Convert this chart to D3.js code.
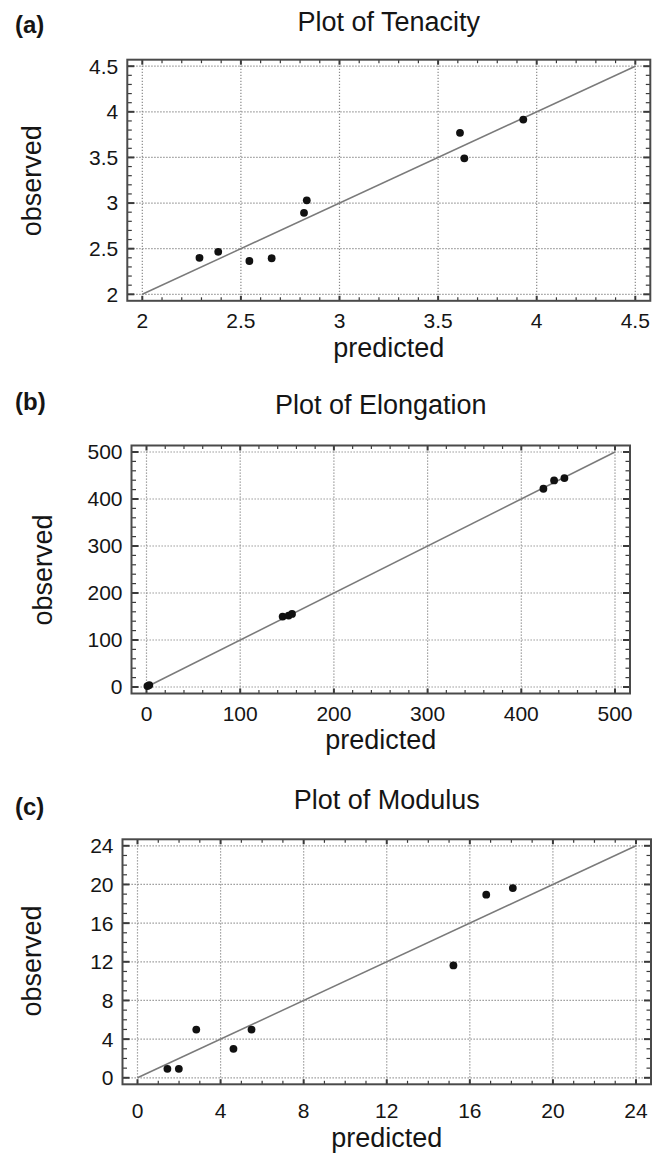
<!DOCTYPE html>
<html><head><meta charset="utf-8">
<script src="https://cdn.jsdelivr.net/npm/d3@7"></script>
<style>
body{margin:0;background:#fff}
svg{display:block}
text{font-family:"Liberation Sans",Arial,Helvetica,sans-serif;fill:#151515}
</style>
</head><body>
<svg id="chart" width="659" height="1155"></svg>
<script>
// ---- data ----
const tenacityPredicted = [2.29, 2.385, 2.543, 2.656, 2.82, 2.834, 3.611, 3.633, 3.932];
const tenacityObserved  = [2.40, 2.465, 2.365, 2.395, 2.893, 3.03, 3.77, 3.49, 3.915];
const tenacityTicks = [2, 2.5, 3, 3.5, 4, 4.5];

const elongationPredicted = [1, 3, 145.3, 151.7, 155.3, 423.6, 435, 446];
const elongationObserved  = [2, 4, 149.8, 151.9, 155.5, 421.8, 439.5, 444.6];
const elongationTicks = [0, 100, 200, 300, 400, 500];

const modulusPredicted = [1.44, 1.99, 2.83, 4.62, 5.49, 15.21, 16.79, 18.07];
const modulusObserved  = [0.93, 0.93, 4.99, 3.0, 4.99, 11.63, 18.94, 19.63];
const modulusTicks = [0, 4, 8, 12, 16, 20, 24];

const panelLetters = ["(a)", "(b)", "(c)"];
const panelTitles = ["Plot of Tenacity", "Plot of Elongation", "Plot of Modulus"];
const xAxisTitle = "predicted";
const yAxisTitle = "observed";

// ---- layout ----
const panels = [
  {pred: tenacityPredicted, obs: tenacityObserved, ticks: tenacityTicks, minor: 0.1,
   frame: {l:127.3, r:650.3, t:59.7, b:300.8}, letterY: 33, titleY: 31, xLabY: 327.5, xTitleY: 357, yTitleX: 41, yTitleY: 180.7},
  {pred: elongationPredicted, obs: elongationObserved, ticks: elongationTicks, minor: 20,
   frame: {l:131.5, r:630, t:445.5, b:693.5}, letterY: 410, titleY: 414, xLabY: 720.5, xTitleY: 749, yTitleX: 52, yTitleY: 570},
  {pred: modulusPredicted, obs: modulusObserved, ticks: modulusTicks, minor: 1,
   frame: {l:122.5, r:651, t:839.3, b:1084.3}, letterY: 815, titleY: 809, xLabY: 1117.5, xTitleY: 1146.5, yTitleX: 41, yTitleY: 961}
];

const svg = d3.select("#chart");

panels.forEach((p, i) => {
  const f = p.frame;
  const padX = 15, padY = 6.5;
  const dom = d3.extent(p.ticks);
  const x = d3.scaleLinear().domain(dom).range([f.l + padX, f.r - padX]);
  const y = d3.scaleLinear().domain(dom).range([f.b - padY, f.t + padY]);
  const g = svg.append("g");

  // grid
  g.selectAll(".vg").data(p.ticks).join("line")
    .attr("x1", d => x(d)).attr("x2", d => x(d)).attr("y1", f.t).attr("y2", f.b)
    .attr("stroke", "#8a8a8a").attr("stroke-width", 1.2).attr("stroke-dasharray", "1.3,1.7");
  g.selectAll(".hg").data(p.ticks).join("line")
    .attr("y1", d => y(d)).attr("y2", d => y(d)).attr("x1", f.l).attr("x2", f.r)
    .attr("stroke", "#8a8a8a").attr("stroke-width", 1.2).attr("stroke-dasharray", "1.3,1.7");

  // minor/major ticks (inward)
  const eps = p.minor / 1000;
  const all = d3.range(dom[0], dom[1] + eps, p.minor);
  const isMajor = v => p.ticks.some(t => Math.abs(t - v) < eps * 10);
  const tk = g.append("g").attr("stroke", "#3a3a3a");
  all.forEach(v => {
    const maj = isMajor(v);
    const lv = maj ? 7 : 4.5, lh = maj ? 5 : 3.5;
    const sw = maj ? 2 : 1.2;
    tk.append("line").attr("x1", f.l).attr("x2", f.l + lv).attr("y1", y(v)).attr("y2", y(v)).attr("stroke-width", sw);
    tk.append("line").attr("x1", f.r).attr("x2", f.r - lv).attr("y1", y(v)).attr("y2", y(v)).attr("stroke-width", sw);
    tk.append("line").attr("y1", f.t).attr("y2", f.t + lh).attr("x1", x(v)).attr("x2", x(v)).attr("stroke-width", sw);
    tk.append("line").attr("y1", f.b).attr("y2", f.b - lh).attr("x1", x(v)).attr("x2", x(v)).attr("stroke-width", sw);
  });

  // frame
  g.append("rect").attr("x", f.l).attr("y", f.t).attr("width", f.r - f.l).attr("height", f.b - f.t)
    .attr("fill", "none").attr("stroke", "#4a4a4a").attr("stroke-width", 2);

  // diagonal
  g.append("line").attr("x1", x(dom[0])).attr("y1", y(dom[0])).attr("x2", x(dom[1])).attr("y2", y(dom[1]))
    .attr("stroke", "#7a7a7a").attr("stroke-width", 1.5);

  // points
  const pts = p.pred.map((v, k) => [v, p.obs[k]]);
  g.selectAll("circle").data(pts).join("circle")
    .attr("cx", d => x(d[0])).attr("cy", d => y(d[1])).attr("r", 3.9).attr("fill", "#111");

  // tick labels
  g.selectAll(".xl").data(p.ticks).join("text")
    .attr("x", d => x(d)).attr("y", p.xLabY).attr("text-anchor", "middle")
    .attr("font-size", 21).text(d => String(d));
  g.selectAll(".yl").data(p.ticks).join("text")
    .attr("x", f.l - 9).attr("y", d => y(d) + 7.4).attr("text-anchor", "end")
    .attr("font-size", 21).text(d => String(d));

  // axis titles
  g.append("text").attr("x", (f.l + f.r) / 2).attr("y", p.xTitleY).attr("text-anchor", "middle")
    .attr("font-size", 27).text(xAxisTitle);
  g.append("text").attr("transform", `translate(${p.yTitleX},${p.yTitleY}) rotate(-90)`)
    .attr("text-anchor", "middle").attr("font-size", 27).text(yAxisTitle);

  // panel title and letter
  g.append("text").attr("x", (f.l + f.r) / 2).attr("y", p.titleY).attr("text-anchor", "middle")
    .attr("font-size", 27).text(panelTitles[i]);
  g.append("text").attr("x", 15).attr("y", p.letterY).attr("font-size", 24).attr("font-weight", "bold")
    .text(panelLetters[i]);
});
</script>
</body></html>
